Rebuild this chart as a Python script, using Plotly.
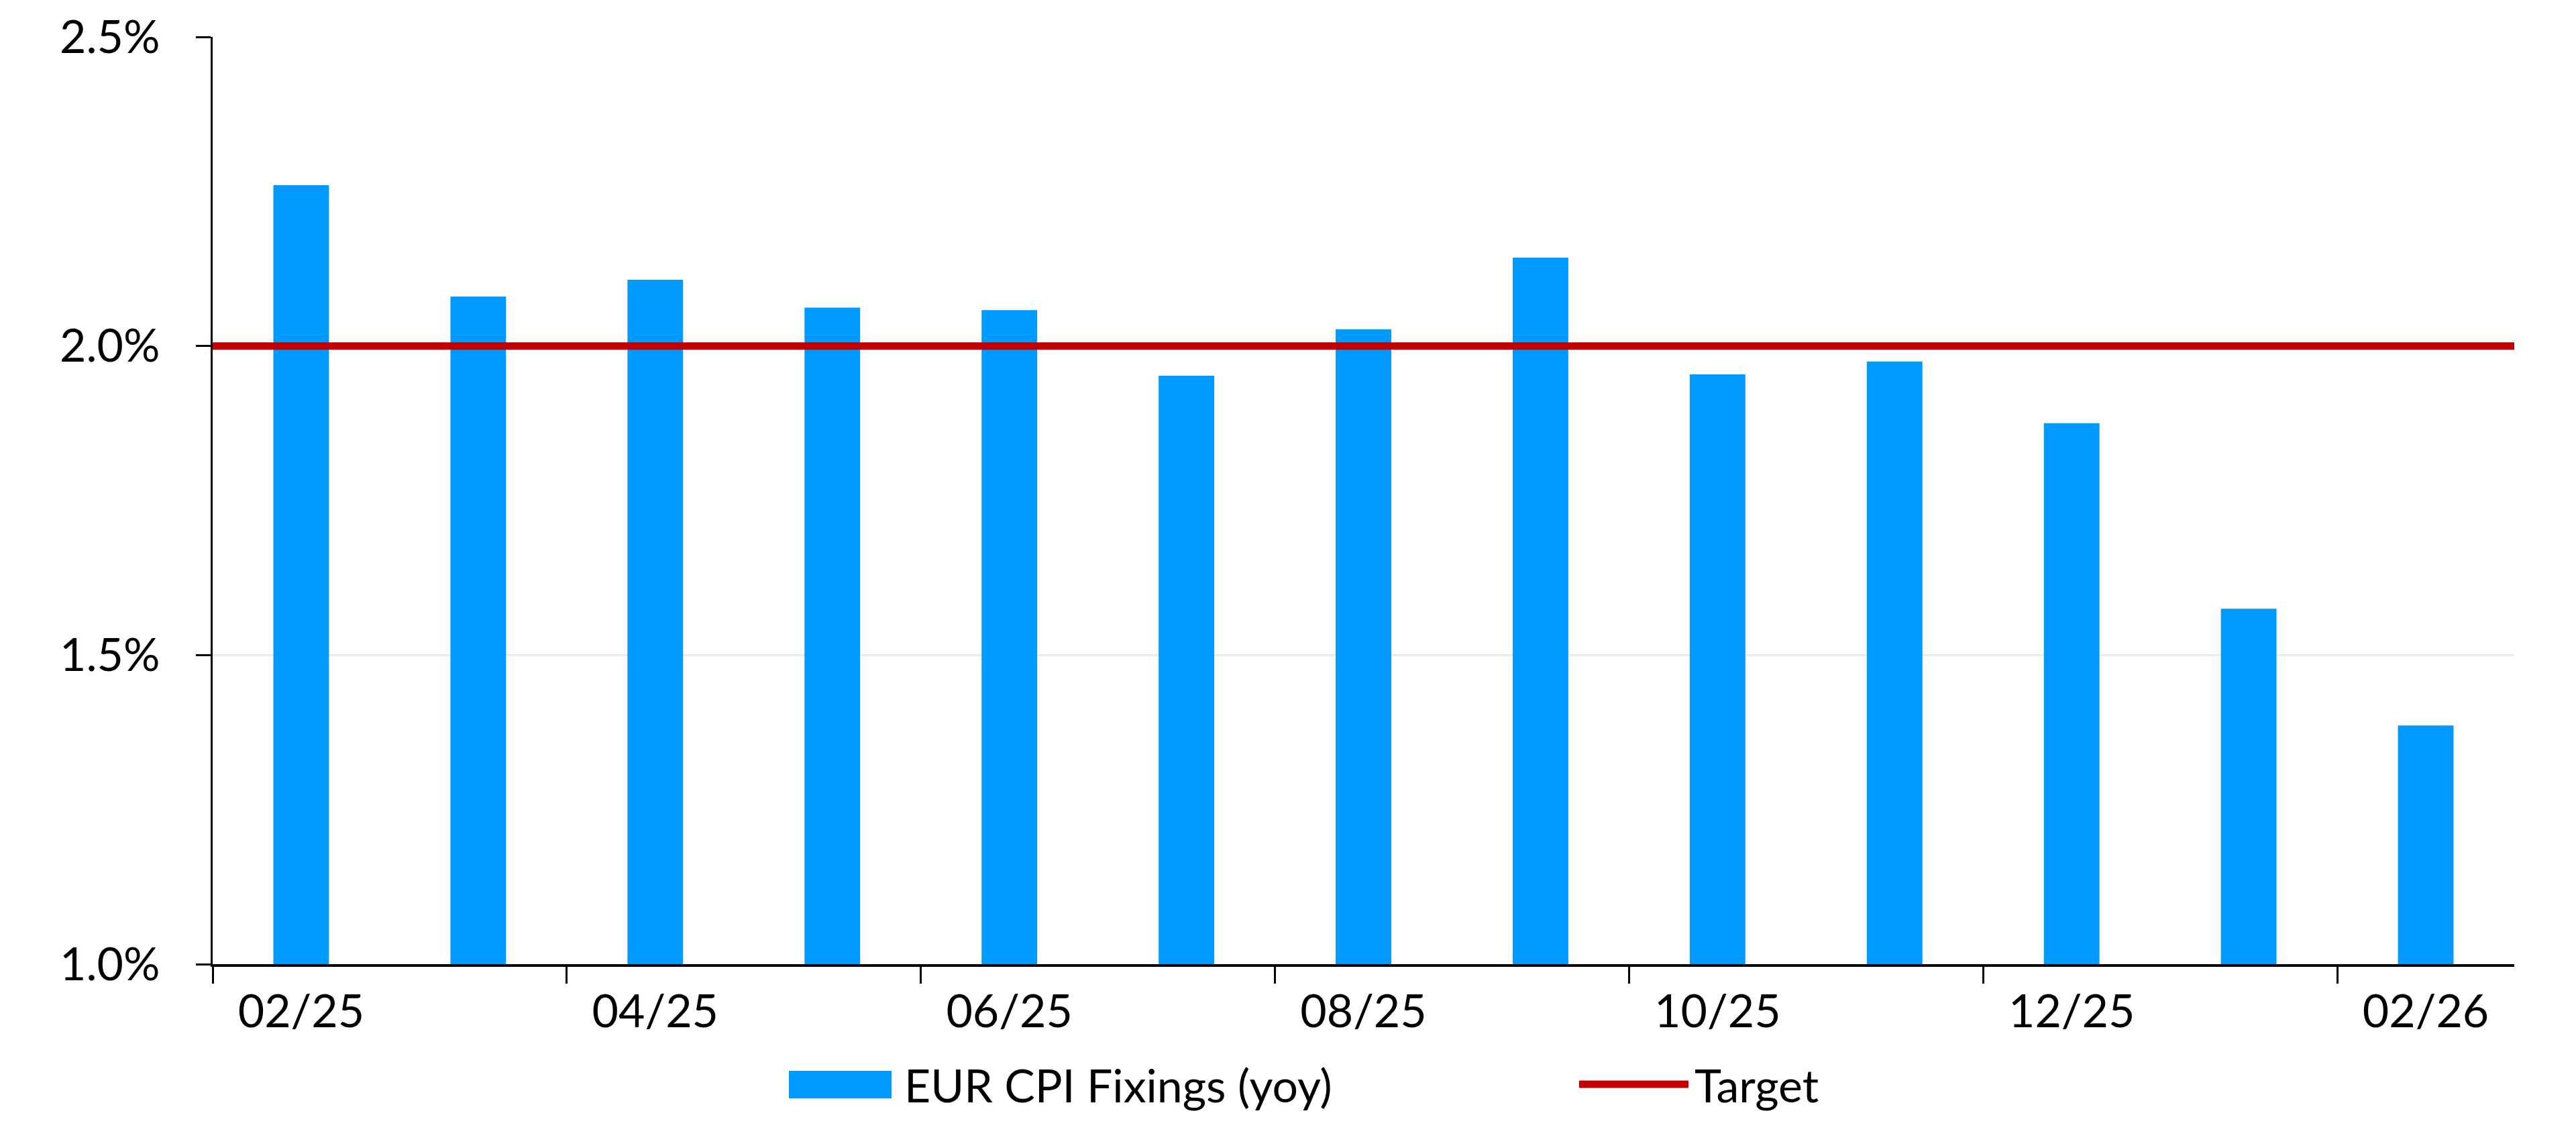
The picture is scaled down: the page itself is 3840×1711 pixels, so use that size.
import plotly.graph_objects as go

# ---- data ----
MONTHS = ["02/25", "03/25", "04/25", "05/25", "06/25", "07/25", "08/25",
          "09/25", "10/25", "11/25", "12/25", "01/26", "02/26"]
CPI_YOY = [2.26, 2.08, 2.107, 2.062, 2.058, 1.952, 2.027,
           2.143, 1.954, 1.975, 1.875, 1.575, 1.386]
TARGET = 2.0
Y_TICKS = [1.0, 1.5, 2.0, 2.5]
Y_TICK_LABELS = ["1.0%", "1.5%", "2.0%", "2.5%"]
SERIES_NAME = "EUR CPI Fixings (yoy)"
TARGET_NAME = "Target"

BLUE = "#0099FF"
RED = "#C00000"
FONT = "Lato"
FS = 68

W, H = 3840, 1711
L, R, T, B = 317, 92, 55, 274
PW, PH = W - L - R, H - T - B


def px_x(p):
    return (p - L) / PW


def px_y(p):
    return (H - B - p) / PH


fig = go.Figure()
fig.add_trace(go.Bar(x=MONTHS, y=CPI_YOY, name=SERIES_NAME,
                     marker=dict(color=BLUE, line=dict(width=0)),
                     showlegend=False))
fig.add_hline(y=TARGET, line=dict(color=RED, width=11), layer="above")

# custom legend (large swatches like the original)
fig.add_shape(type="rect", xref="paper", yref="paper",
              x0=px_x(1176), x1=px_x(1329), y0=px_y(1637), y1=px_y(1596),
              fillcolor=BLUE, line=dict(width=0))
fig.add_annotation(xref="paper", yref="paper", x=px_x(1346), y=px_y(1616),
                   text=SERIES_NAME, showarrow=False, xanchor="left", yanchor="middle",
                   font=dict(family=FONT, size=FS, color="black"))
fig.add_shape(type="line", xref="paper", yref="paper",
              x0=px_x(2354), x1=px_x(2517), y0=px_y(1616), y1=px_y(1616),
              line=dict(color=RED, width=11))
fig.add_annotation(xref="paper", yref="paper", x=px_x(2524), y=px_y(1616),
                   text=TARGET_NAME, showarrow=False, xanchor="left", yanchor="middle",
                   font=dict(family=FONT, size=FS, color="black"))

fig.update_layout(
    width=W, height=H, autosize=False,
    margin=dict(l=L, r=R, t=T, b=B, pad=0, autoexpand=False),
    paper_bgcolor="white", plot_bgcolor="white",
    bargap=0.686,
    font=dict(family=FONT, size=FS, color="black"),
    showlegend=False,
)
fig.update_xaxes(
    type="category", tickson="boundaries", dtick=2,
    ticks="outside", ticklen=25, tickwidth=3, tickcolor="black",
    showline=True, linecolor="black", linewidth=4,
    showgrid=False, zeroline=False, automargin=False,
    tickfont=dict(family=FONT, size=FS, color="black"),
    ticklabelstandoff=8,
)
fig.update_yaxes(
    range=[Y_TICKS[0], Y_TICKS[-1]], tickvals=Y_TICKS, ticktext=Y_TICK_LABELS,
    ticks="outside", ticklen=22, tickwidth=3, tickcolor="black",
    showline=True, linecolor="black", linewidth=3,
    showgrid=True, gridcolor="#EBEBEB", gridwidth=3, zeroline=False,
    automargin=False,
    tickfont=dict(family=FONT, size=FS, color="black"),
    ticklabelstandoff=40,
)

fig.write_html(
    "out.html",
    config={"displayModeBar": False},
    post_script="document.body.style.margin='0';document.body.style.overflow='hidden';",
)
